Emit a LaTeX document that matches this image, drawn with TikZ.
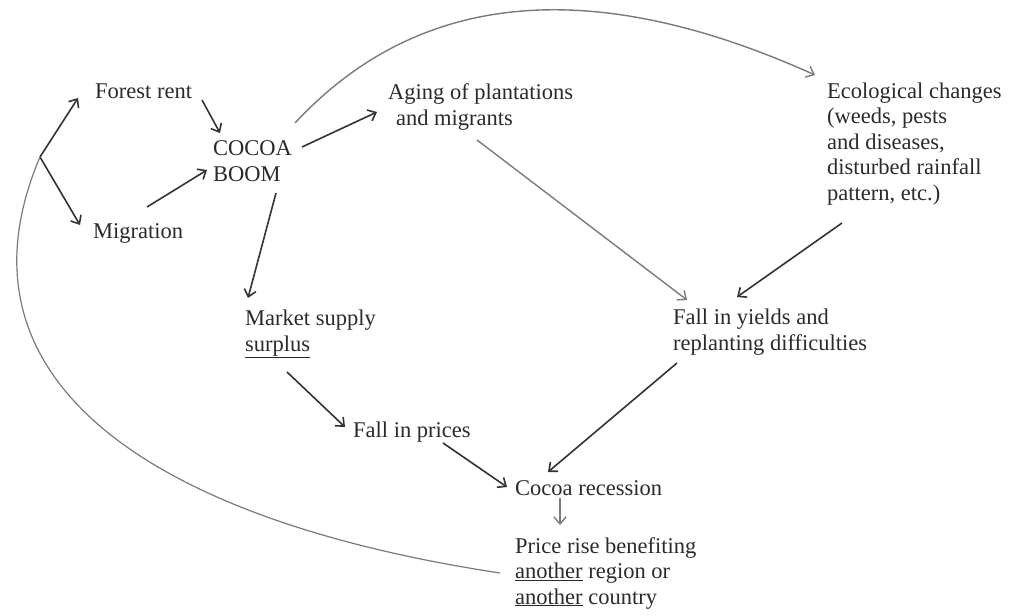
\documentclass[tikz,border=0pt]{standalone}
\usepackage{fontspec}
\setmainfont{Liberation Serif}
\usetikzlibrary{arrows.meta}

\definecolor{ink}{HTML}{333333}
\definecolor{grayink}{HTML}{7A7A7A}
\definecolor{txt}{HTML}{2A2A2A}

\tikzset{
  lbl/.style={anchor=west, inner sep=0pt, align=left, text=txt,
    font=\fontsize{22.5}{25.5}\selectfont},
  arr/.style={draw=ink, line width=1.6pt, -{Straight Barb[length=7pt,width=12pt]}},
  garr/.style={draw=grayink, line width=1.4pt, -{Straight Barb[length=7pt,width=12pt]}},
  feedback/.style={draw=grayink, line width=1.2pt},
}

\begin{document}
\begin{tikzpicture}[x=1pt,y=-1pt]
                \useasboundingbox (0,0) rectangle (1016,615);
                \node[lbl] (forest) at (95,91) {Forest rent};
                \node[lbl] (boom) at (213,161) {COCOA\\BOOM};
                \node[lbl] (migration) at (93,233) {Migration};
                \node[lbl] (aging) at (388,107) {Aging of plantations\\\hspace*{0.35em}and migrants};
                \node[lbl] (eco) at (827,144) {Ecological changes\\(weeds, pests\\and diseases,\\disturbed rainfall\\pattern, etc.)};
                \node[lbl] (market) at (245,334) {Market supply\\\underline{surplus}};
                \node[lbl] (yields) at (673,332) {Fall in yields and\\replanting difficulties};
                \node[lbl] (prices) at (353,432) {Fall in prices};
                \node[lbl] (recession) at (515,488) {Cocoa recession};
                \node[lbl] (rise) at (515,573) {Price rise benefiting\\\underline{another} region or\\\underline{another} country};
                \coordinate (fork) at (40,157);
                % start of the cycle
                \draw[arr] (fork) -- ([shift={(-17,7)}]forest.west);
                \draw[arr] (fork) -- ([shift={(-13,-8)}]migration.west);
                \draw[arr] ([shift={(107,9)}]forest.west) -- ([shift={(7,-28)}]boom.west);
                \draw[arr] ([shift={(54,-26)}]migration.west) -- ([shift={(-6,9)}]boom.west);
                \draw[arr] ([shift={(89,-14)}]boom.west) -- ([shift={(-11,5)}]aging.west);
                \draw[arr] ([shift={(63,32)}]boom.west) -- ([shift={(3,-36)}]market.west);
                \draw[garr] ([shift={(89,33)}]aging.west) -- ([shift={(14,-32)}]yields.west);
                \draw[arr] ([shift={(15,79)}]eco.west) -- ([shift={(64,-35)}]yields.west);
                \draw[arr] ([shift={(42,38)}]market.west) -- ([shift={(-8,-5)}]prices.west);
                \draw[arr] ([shift={(90,11)}]prices.west) -- ([shift={(-8,-1)}]recession.west);
                \draw[arr] ([shift={(4,31)}]yields.west) -- ([shift={(33,-16)}]recession.west);
                \draw[garr] ([shift={(45,10)}]recession.west) -- ([shift={(45,-48)}]rise.west);
                % long curves
                \draw[garr] ([shift={(82,-38)}]boom.west) .. controls (414,-5) and (584,-29) .. ([shift={(-12,-69)}]eco.west);
                \draw[feedback] ([shift={(-15,0)}]rise.west) .. controls (150,520) and (-55,380) .. (fork);
            \end{tikzpicture}
\end{document}
